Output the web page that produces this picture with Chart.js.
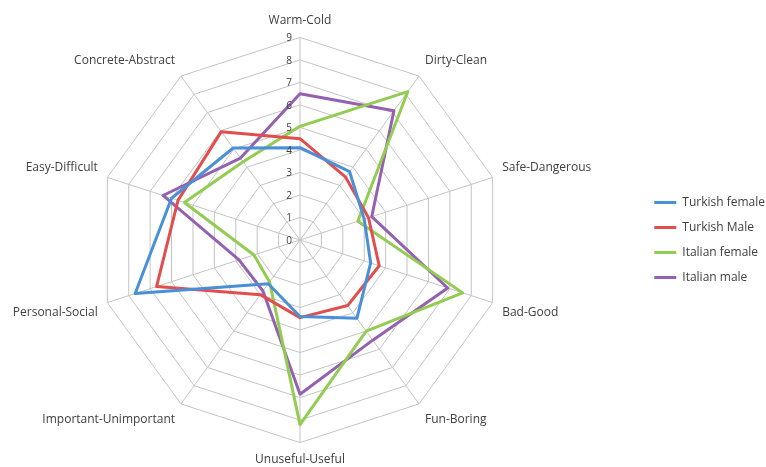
<!DOCTYPE html>
<html>
<head>
<meta charset="utf-8">
<script src="https://cdn.jsdelivr.net/npm/chart.js@4/dist/chart.umd.min.js"></script>
<style>
  html, body { margin: 0; padding: 0; background: #fff; }
  #wrap { width: 766px; height: 467px; }
</style>
</head>
<body>
<div id="wrap"><canvas id="radar-chart" width="766" height="467"></canvas></div>
<script>
// Axis labels (clockwise from top)
var axisLabels = [
  'Warm-Cold', 'Dirty-Clean', 'Safe-Dangerous', 'Bad-Good', 'Fun-Boring',
  'Unuseful-Useful', 'Important-Unimportant', 'Personal-Social', 'Easy-Difficult', 'Concrete-Abstract'
];
var tickValues = [0, 1, 2, 3, 4, 5, 6, 7, 8, 9];

// Series values
var turkishFemale = [4.1, 3.75, 3.0, 3.3, 4.3, 3.4, 2.4, 7.7, 6.0, 5.05];
var turkishMale   = [4.5, 3.45, 3.2, 3.7, 3.6, 3.45, 3.0, 6.7, 5.7, 5.95];
var italianFemale = [5.05, 8.15, 2.7, 7.6, 5.0, 8.2, 2.3, 2.15, 5.4, 4.3];
var italianMale   = [6.5, 7.1, 3.35, 6.9, 5.5, 6.85, 2.8, 2.85, 6.4, 4.5];

function makeSeries(label, data, color) {
  return {
    label: label,
    data: data,
    borderColor: color,
    backgroundColor: color,
    borderWidth: 3,
    borderJoinStyle: 'round',
    fill: false,
    tension: 0,
    pointRadius: 0,
    pointHoverRadius: 0
  };
}

// tick numbers sit just left of the vertical axis, like the original
var tickLabelPlugin = {
  id: 'tickLabels',
  afterDatasetsDraw: function(chart) {
    var scale = chart.scales.r;
    var ctx = chart.ctx;
    ctx.save();
    ctx.font = '10px "Open Sans", sans-serif';
    ctx.fillStyle = '#404040';
    ctx.textAlign = 'right';
    ctx.textBaseline = 'middle';
    tickValues.forEach(function(v) {
      var y = scale.yCenter - scale.getDistanceFromCenterForValue(v);
      ctx.fillText(String(v), scale.xCenter - 8, y + 1);
    });
    ctx.restore();
  }
};

var radarCtx = document.getElementById('radar-chart').getContext('2d');
var radarChart = new Chart(radarCtx, {
  type: 'radar',
  data: {
    labels: axisLabels,
    datasets: [
      makeSeries('Turkish female', turkishFemale, '#4a90d6'),
      makeSeries('Turkish Male', turkishMale, '#e04e4e'),
      makeSeries('Italian female', italianFemale, '#92cc50'),
      makeSeries('Italian male', italianMale, '#9460b0')
    ]
  },
  options: {
    responsive: false,
    animation: false,
    events: [],
    layout: {
      padding: { left: 0, right: -9, top: 13, bottom: 0 }
    },
    scales: {
      r: {
        min: 0,
        max: 9,
        // the web sits left of the middle of its area, as in the original
        afterSetDimensions: function(scale) {
          scale.xCenter -= 30;
        },
        ticks: {
          stepSize: 1,
          display: false
        },
        grid: {
          color: '#c4c4c4',
          lineWidth: 1
        },
        angleLines: {
          color: '#c4c4c4',
          lineWidth: 1
        },
        pointLabels: {
          color: '#404040',
          padding: 10,
          font: { family: '"Open Sans", sans-serif', size: 12 }
        }
      }
    },
    plugins: {
      legend: {
        position: 'right',
        labels: {
          color: '#404040',
          usePointStyle: true,
          pointStyle: 'line',
          pointStyleWidth: 22,
          padding: 13,
          font: { family: '"Open Sans", sans-serif', size: 12 }
        }
      },
      tooltip: { enabled: false }
    }
  },
  plugins: [tickLabelPlugin]
});
</script>
</body>
</html>
